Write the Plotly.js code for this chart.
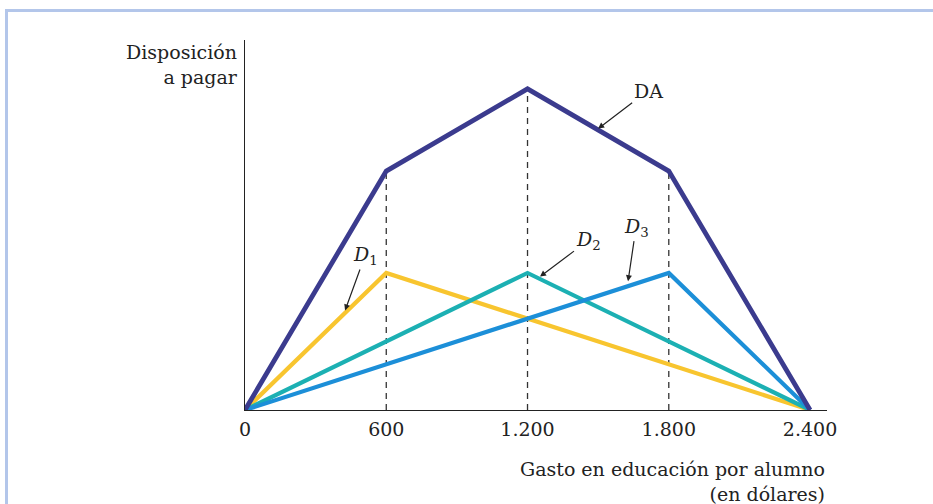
<!DOCTYPE html>
<html><head><meta charset="utf-8">
<script src="https://cdn.plot.ly/plotly-3.0.1.min.js"></script>
<style>
html,body{margin:0;padding:0;background:#fff;}
#frame{position:absolute;left:5px;top:9px;width:928px;height:495px;border-top:3px solid #b3c6ea;border-left:3px solid #b3c6ea;box-sizing:border-box;}
#chart{position:absolute;left:0;top:0;width:933px;height:504px;}
</style>
</head><body>
<div id="frame"></div>
<div id="chart"></div>
<script>
// Data (willingness to pay in arbitrary units)
const spend = [0, 600, 1200, 1800, 2400];
const tickLabels = ["0", "600", "1.200", "1.800", "2.400"];
const DA = [0, 52.3, 70.3, 52.3, 0];
const D1x = [0, 600, 2400];
const D1y = [0, 30, 0];
const D2x = [0, 1200, 2400];
const D2y = [0, 30, 0];
const D3x = [0, 1800, 2400];
const D3y = [0, 30, 0];
const guideX = [600, 1200, 1800];
const guideTop = [52.3, 70.3, 52.3];

const serif = "DejaVu Serif, Liberation Serif, serif";
const fs = 19;
const traces = [];
guideX.forEach((gx, i) => {
  traces.push({x:[gx, gx], y:[0, guideTop[i]], mode:'lines', line:{color:'#333', width:1.3, dash:'6px,5px'}, hoverinfo:'skip'});
});
traces.push({x:D1x, y:D1y, mode:'lines', line:{color:'#f8c52f', width:4.2}});
traces.push({x:D2x, y:D2y, mode:'lines', line:{color:'#1cb0b3', width:4.2}});
traces.push({x:D3x, y:D3y, mode:'lines', line:{color:'#1c8fd8', width:4.2}});
traces.push({x:spend, y:DA, mode:'lines', line:{color:'#3b3b8e', width:4.8}});

const arrowCommon = {showarrow:true, arrowhead:2, arrowsize:1, arrowwidth:1.2, arrowcolor:'#222', font:{family:serif, size:fs, color:'#222'}, xref:'x', yref:'y', axref:'pixel', ayref:'pixel'};

const layout = {
  width:933, height:504,
  margin:{l:245, r:106, t:40, b:94},
  paper_bgcolor:'rgba(0,0,0,0)', plot_bgcolor:'rgba(0,0,0,0)',
  showlegend:false,
  xaxis:{range:[0, 2472], tickvals:spend, ticktext:tickLabels, showgrid:false, zeroline:false,
         showline:true, linecolor:'#222', linewidth:1.3, ticks:'outside', ticklen:2, tickcolor:'rgba(0,0,0,0)',
         tickfont:{family:serif, size:fs, color:'#222'}, fixedrange:true},
  yaxis:{range:[0, 81], showgrid:false, zeroline:false, showticklabels:false,
         showline:true, linecolor:'#222', linewidth:1.3, ticks:'', fixedrange:true},
  annotations:[
    Object.assign({}, arrowCommon, {x:1500, y:61.6, text:'DA', ax:50, ay:-38}),
    Object.assign({}, arrowCommon, {x:425, y:21.8, text:'<i>D</i><sub>1</sub>', ax:20, ay:-55}),
    Object.assign({}, arrowCommon, {x:1253, y:29.2, text:'<i>D</i><sub>2</sub>', ax:48, ay:-36}),
    Object.assign({}, arrowCommon, {x:1627, y:28.2, text:'<i>D</i><sub>3</sub>', ax:8, ay:-54}),
    {xref:'paper', yref:'paper', x:-0.009, y:0.935, xanchor:'right', yanchor:'middle', showarrow:false, align:'right',
     text:'Disposición<br>a pagar', font:{family:serif, size:fs, color:'#222'}},
    {xref:'paper', yref:'paper', x:1.0, y:-0.192, xanchor:'right', yanchor:'middle', showarrow:false, align:'right',
     text:'Gasto en educación por alumno<br>(en dólares)', font:{family:serif, size:fs, color:'#222'}}
  ]
};
Plotly.newPlot('chart', traces, layout, {displayModeBar:false, staticPlot:true});
</script>
</body></html>
